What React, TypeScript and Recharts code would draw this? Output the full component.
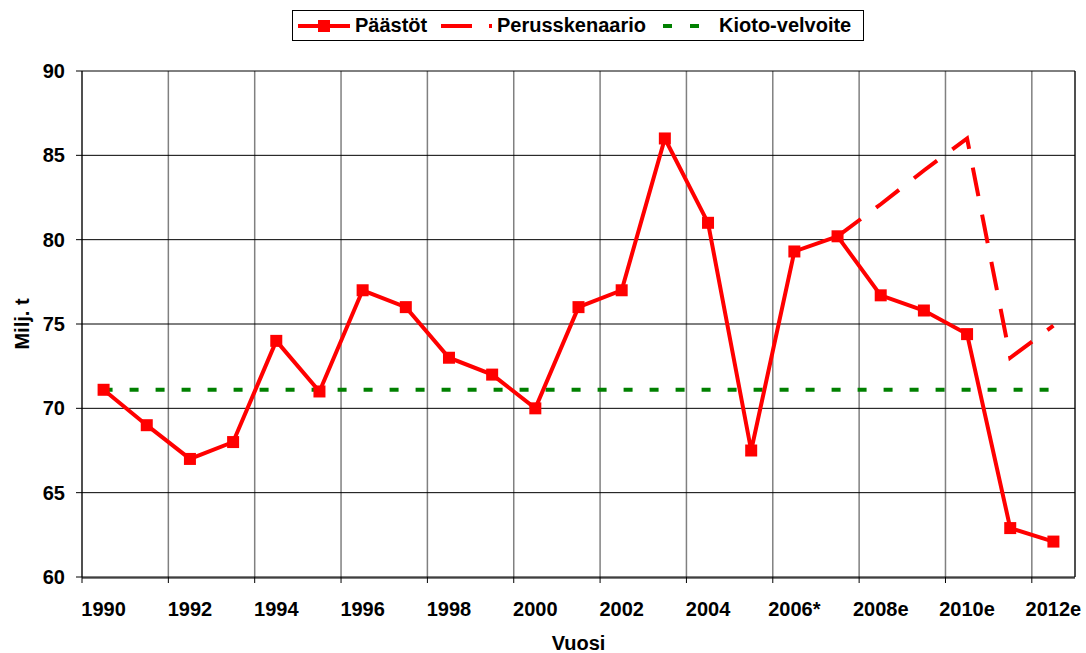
import { LineChart, Line, XAxis, YAxis, CartesianGrid, ReferenceLine } from 'recharts'

const years = [
  '1990', '1991', '1992', '1993', '1994', '1995', '1996', '1997', '1998', '1999',
  '2000', '2001', '2002', '2003', '2004', '2005', '2006*', '2007*', '2008e', '2009e',
  '2010e', '2011e', '2012e',
]
const paastot = [
  71.1, 69.0, 67.0, 68.0, 74.0, 71.0, 77.0, 76.0, 73.0, 72.0,
  70.0, 76.0, 77.0, 86.0, 81.0, 67.5, 79.3, 80.2, 76.7, 75.8,
  74.4, 62.9, 62.1,
]
const perusskenaario = [
  null, null, null, null, null, null, null, null, null, null,
  null, null, null, null, null, null, null, 80.2, 82.1, 84.1,
  86.0, 73.0, 74.9,
]
const kiotoVelvoite = 71.1

const yTicks = [60, 65, 70, 75, 80, 85, 90]
const labelTicks = [0, 2, 4, 6, 8, 10, 12, 14, 16, 18, 20, 22]
const gridTicks = [-0.5, 1.5, 3.5, 5.5, 7.5, 9.5, 11.5, 13.5, 15.5, 17.5, 19.5, 21.5]

const data = years.map((year, i) => ({
  i,
  year,
  paastot: paastot[i],
  perus: perusskenaario[i],
  kioto: kiotoVelvoite,
}))

const RED = '#FF0000'
const GREEN = '#008000'
const font = '"Liberation Sans", Arial, sans-serif'
const tickStyle = { fill: '#000', fontSize: 20, fontWeight: 'bold', fontFamily: font }

function SquareDot(props: any) {
  const { cx, cy } = props
  if (cx == null || cy == null) return null
  return <rect x={cx - 6} y={cy - 6} width={12} height={12} fill={RED} />
}

function ChartLegend() {
  return (
    <div
      style={{
        position: 'absolute',
        left: 292,
        top: 10,
        width: 572,
        height: 31,
        border: '1px solid #000',
        boxSizing: 'border-box',
        background: '#fff',
        fontSize: 20,
        fontWeight: 'bold',
        fontFamily: font,
      }}
    >
      <svg style={{ position: 'absolute', left: 5, top: 7 }} width={52} height={16}>
        <line x1={0} y1={8} x2={52} y2={8} stroke={RED} strokeWidth={4} />
        <rect x={20} y={2} width={12} height={12} fill={RED} />
      </svg>
      <span style={{ position: 'absolute', left: 62, top: 3 }}>Päästöt</span>
      <svg style={{ position: 'absolute', left: 148, top: 7 }} width={51} height={16}>
        <line x1={0} y1={8} x2={51} y2={8} stroke={RED} strokeWidth={4} strokeDasharray="31 17" />
      </svg>
      <span style={{ position: 'absolute', left: 204, top: 3 }}>Perusskenaario</span>
      <svg style={{ position: 'absolute', left: 370, top: 7 }} width={54} height={16}>
        <line x1={0} y1={8} x2={54} y2={8} stroke={GREEN} strokeWidth={4} strokeDasharray="9 18" />
      </svg>
      <span style={{ position: 'absolute', left: 426, top: 3 }}>Kioto-velvoite</span>
    </div>
  )
}

export default function App() {
  return (
    <div
      style={{
        position: 'absolute',
        left: 0,
        top: 0,
        width: 1086,
        height: 653,
        background: '#fff',
        fontFamily: font,
        fontWeight: 'bold',
      }}
    >
      <LineChart width={1086} height={653} data={data} margin={{ top: 71, right: 11, bottom: 0, left: 0 }}>
        <CartesianGrid xAxisId="bounds" horizontal={false} stroke="#808080" strokeWidth={1.5} />
        <CartesianGrid xAxisId="main" vertical={false} stroke="#000" />
        <XAxis
          xAxisId="bounds"
          type="number"
          dataKey="i"
          domain={[-0.5, 22.5]}
          ticks={gridTicks}
          interval={0}
          height={1}
          tick={() => null}
          tickSize={6}
          axisLine={false}
          tickLine={{ stroke: '#000' }}
        />
        <XAxis
          xAxisId="main"
          type="number"
          dataKey="i"
          domain={[-0.5, 22.5]}
          ticks={labelTicks}
          interval={0}
          height={75}
          tickFormatter={(v: number) => years[v]}
          tick={tickStyle}
          tickLine={false}
          tickSize={6}
          tickMargin={18}
          axisLine={{ stroke: '#000' }}
          label={{ value: 'Vuosi', position: 'insideBottom', offset: 3, style: tickStyle }}
        />
        <YAxis
          domain={[60, 90]}
          ticks={yTicks}
          interval={0}
          width={82}
          tick={tickStyle}
          tickSize={6}
          tickMargin={11}
          axisLine={{ stroke: '#000' }}
          tickLine={{ stroke: '#000' }}
          label={{
            value: 'Milj. t',
            angle: -90,
            position: 'insideLeft',
            offset: 22,
            style: { ...tickStyle, textAnchor: 'middle' },
          }}
        />
        <ReferenceLine xAxisId="main" x={22.5} stroke="#000" />
        <Line
          xAxisId="main"
          dataKey="kioto"
          stroke={GREEN}
          strokeWidth={4}
          strokeDasharray="9 17"
          dot={false}
          isAnimationActive={false}
        />
        <Line
          xAxisId="main"
          dataKey="perus"
          stroke={RED}
          strokeWidth={4}
          strokeDasharray="29 19"
          dot={false}
          isAnimationActive={false}
        />
        <Line
          xAxisId="main"
          dataKey="paastot"
          stroke={RED}
          strokeWidth={4}
          dot={<SquareDot />}
          activeDot={false}
          isAnimationActive={false}
        />
      </LineChart>
      <ChartLegend />
    </div>
  )
}
